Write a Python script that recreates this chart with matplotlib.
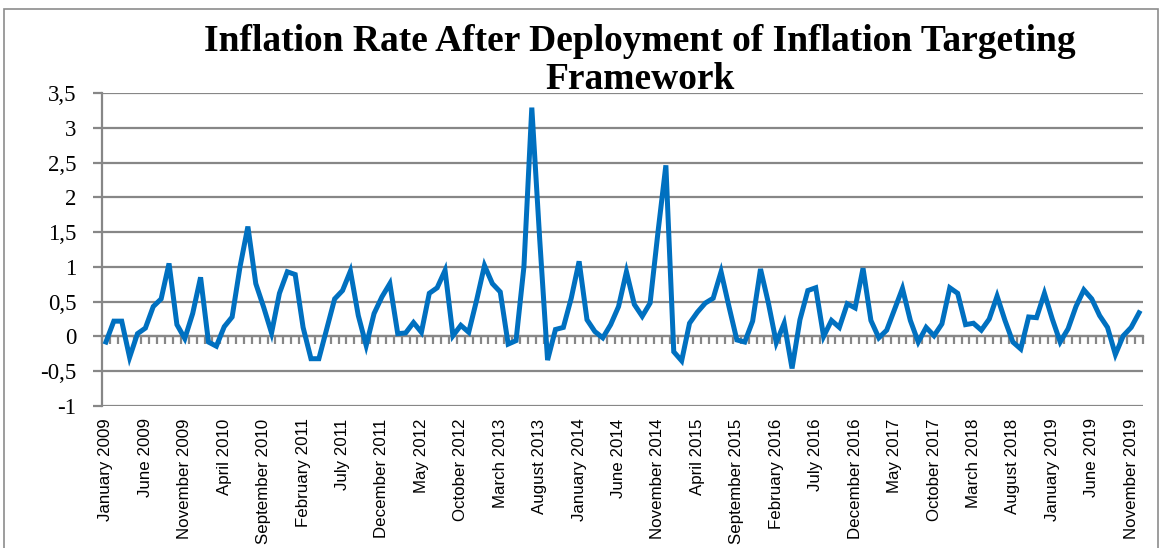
import matplotlib.pyplot as plt
import matplotlib.patches as patches
from matplotlib import font_manager
from matplotlib.ticker import FixedLocator, FuncFormatter
import numpy as np

# Monthly inflation rate, January 2009 - December 2019
years = list(range(2009, 2020))
monthNames = ["January", "February", "March", "April", "May", "June", "July",
              "August", "September", "October", "November", "December"]
months = [f"{m} {y}" for y in years for m in monthNames]

inflation = [
    -0.08, 0.22, 0.22, -0.30, 0.04, 0.12, 0.43, 0.54, 1.05, 0.17, -0.03, 0.33,
    0.85, -0.08, -0.14, 0.14, 0.28, 1.00, 1.58, 0.76, 0.42, 0.05, 0.62, 0.93,
    0.89, 0.13, -0.32, -0.32, 0.11, 0.54, 0.66, 0.94, 0.30, -0.13, 0.33, 0.57,
    0.76, 0.04, 0.05, 0.20, 0.06, 0.62, 0.70, 0.95, 0.01, 0.16, 0.06, 0.52,
    1.02, 0.76, 0.64, -0.11, -0.06, 1.00, 3.29, 1.40, -0.34, 0.10, 0.13, 0.55,
    1.08, 0.24, 0.07, -0.02, 0.17, 0.43, 0.93, 0.46, 0.29, 0.48, 1.50, 2.46,
    -0.22, -0.35, 0.19, 0.35, 0.48, 0.55, 0.93, 0.43, -0.05, -0.08, 0.22, 0.97,
    0.48, -0.09, 0.19, -0.46, 0.24, 0.66, 0.70, 0.00, 0.23, 0.13, 0.47, 0.41,
    0.98, 0.23, -0.02, 0.09, 0.39, 0.69, 0.23, -0.08, 0.13, 0.01, 0.18, 0.70,
    0.62, 0.17, 0.19, 0.09, 0.25, 0.58, 0.23, -0.08, -0.18, 0.28, 0.27, 0.62,
    0.25, -0.08, 0.11, 0.43, 0.67, 0.54, 0.30, 0.13, -0.26, 0.01, 0.13, 0.34,
]

yTicks = [-1, -0.5, 0, 0.5, 1, 1.5, 2, 2.5, 3, 3.5]
labelStep = 5

gridColor = "#878787"
lineColor = "#0070C0"

# Use a narrow sans face for the month labels when one is installed
installed = {f.name for f in font_manager.fontManager.ttflist}
if "Liberation Sans Narrow" in installed:
    monthFont, monthSize = "Liberation Sans Narrow", 14.5
else:
    monthFont, monthSize = "Liberation Sans", 12.2

fig = plt.figure(figsize=(11.63, 5.48), dpi=100)
ax = fig.add_axes([0.0877, 0.2591, 0.8951, 0.5712])

x = np.arange(len(inflation))
ax.plot(x, inflation, color=lineColor, linewidth=3.6, solid_joinstyle="miter", zorder=3)

# Axes limits and gridlines
ax.set_xlim(-0.5, len(inflation) - 0.5)
ax.set_ylim(yTicks[0], yTicks[-1])
ax.set_yticks(yTicks)
ax.yaxis.set_major_formatter(FuncFormatter(lambda v, pos: f"{v:g}".replace(".", ",")))
ax.grid(axis="y", color=gridColor, linewidth=1.6)
ax.set_axisbelow(True)

for side in ["top", "right"]:
    ax.spines[side].set_visible(False)
ax.spines["left"].set_color(gridColor)
ax.spines["left"].set_linewidth(1.6)
ax.spines["bottom"].set_position(("data", 0))
ax.spines["bottom"].set_color(gridColor)
ax.spines["bottom"].set_linewidth(1.6)

# Category ticks between months, labels every fifth month at the bottom
ax.xaxis.set_minor_locator(FixedLocator(np.arange(-0.5, len(inflation), 1)))
ax.set_xticks(x[::labelStep])
ax.set_xticklabels(months[::labelStep], rotation=90, fontsize=monthSize,
                   family=[monthFont, "DejaVu Sans"])
ax.tick_params(axis="x", which="major", length=0, pad=59)
ax.tick_params(axis="x", which="minor", length=6, width=1.6, color=gridColor, direction="out")
ax.tick_params(axis="y", length=6.5, width=1.6, color=gridColor, pad=12, labelsize=16.5)
for label in ax.get_yticklabels():
    label.set_family(["Liberation Serif", "DejaVu Serif"])

# Title
fig.text(0.55, 0.889, "Inflation Rate After Deployment of Inflation Targeting\nFramework",
         ha="center", va="center", fontsize=27, fontweight="bold",
         family=["Liberation Serif", "DejaVu Serif"], linespacing=1.12)

# Chart area border
border = patches.Rectangle((4 / 1163, -0.05), 1154 / 1163, 1.05 - 9 / 548,
                           transform=fig.transFigure, fill=False,
                           edgecolor="#8C8C8C", linewidth=1.2)
fig.patches.append(border)

fig.savefig("out.png", dpi=100)
plt.close()
